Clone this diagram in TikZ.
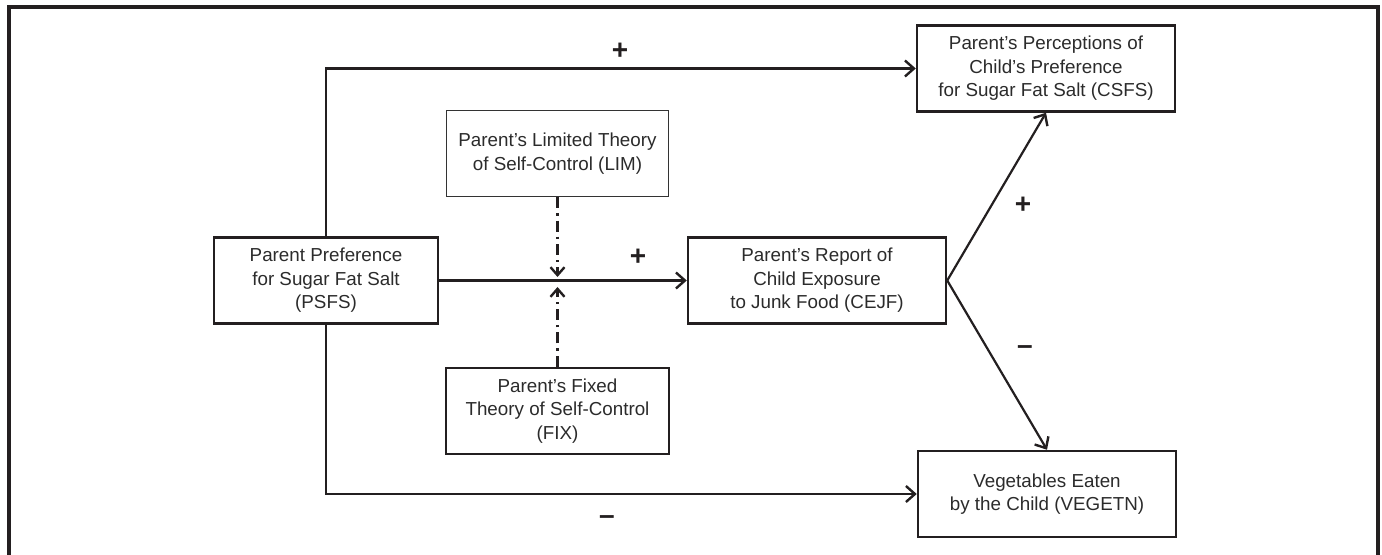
\documentclass[tikz,border=0pt]{standalone}
\usepackage{fontspec}
\setmainfont{Liberation Sans}
\usetikzlibrary{arrows.meta,positioning}

\definecolor{inkdark}{HTML}{231F20}
\definecolor{txtgray}{HTML}{2B2B2B}
\definecolor{limgray}{HTML}{333333}

\tikzset{
  box/.style={draw=inkdark, line width=1.25pt, minimum height=43pt,
    align=center, text=txtgray, inner sep=2pt,
    font=\fontsize{9.4}{11.8}\selectfont},
  thinbox/.style={box, draw=limgray, line width=0.8pt},
  path/.style={draw=inkdark, line width=1.1pt, -{Straight Barb[length=4.5pt,width=8pt,line width=1.2pt]}},
  modpath/.style={draw=inkdark, line width=1.1pt,
    dash pattern=on 5.5pt off 2.5pt on 1.2pt off 2.5pt,
    -{Straight Barb[length=4pt,width=7pt,line width=1.2pt]}},
  sign/.style={text=inkdark, font=\fontsize{14}{14}\bfseries\selectfont, inner sep=0pt}
}

\begin{document}
\begin{tikzpicture}[x=0.5pt, y=-0.5pt]
    \useasboundingbox (0,0) rectangle (1382,555);

    % Frame
    \draw[inkdark, line width=1.6pt] (9,570) -- (9,7) -- (1378,7) -- (1378,570);

    % Boxes
    \node[box, minimum width=112pt] (psfs) at (326,280.5) {Parent Preference\\for Sugar Fat Salt\\(PSFS)};
    \node[thinbox, minimum width=111pt] (lim) at (557.5,153.5) {Parent’s Limited Theory\\of Self-Control (LIM)};
    \node[box, minimum width=111.5pt] (fix) at (557.5,411) {Parent’s Fixed\\Theory of Self-Control\\(FIX)};
    \node[box, minimum width=129pt] (cejf) at (817,280.5) {Parent’s Report of\\Child Exposure\\to Junk Food (CEJF)};
    \node[box, minimum width=129pt] (csfs) at (1046,68.5) {Parent’s Perceptions of\\Child’s Preference\\for Sugar Fat Salt (CSFS)};
    \node[box, minimum width=129pt] (vegetn) at (1047,494) {Vegetables Eaten\\by the Child (VEGETN)};

    % Paths
    \draw[path] (psfs.north) |- (csfs.west);
    \draw[path] (psfs.south) |- (vegetn.west);
    \draw[path] (psfs.east) -- (cejf.west);
    \draw[path] (cejf.east) -- (csfs.south);
    \draw[path] (cejf.east) -- (vegetn.north);

    % Moderators
    \coordinate (modtop) at (557.5,277);
    \coordinate (modbot) at (557.5,287);
    \draw[modpath] (lim.south) -- (modtop);
    \draw[modpath] (fix.north) -- (modbot);

    % Signs
    \node[sign] (s1) at (620,51) {+};
    \node[sign] (s2) at (638,257) {+};
    \node[sign] (s3) at (1023,205) {+};
    \node[sign] (s4) at (1025,350) {–};
    \node[sign] (s5) at (607,520) {–};
\end{tikzpicture}
\end{document}
